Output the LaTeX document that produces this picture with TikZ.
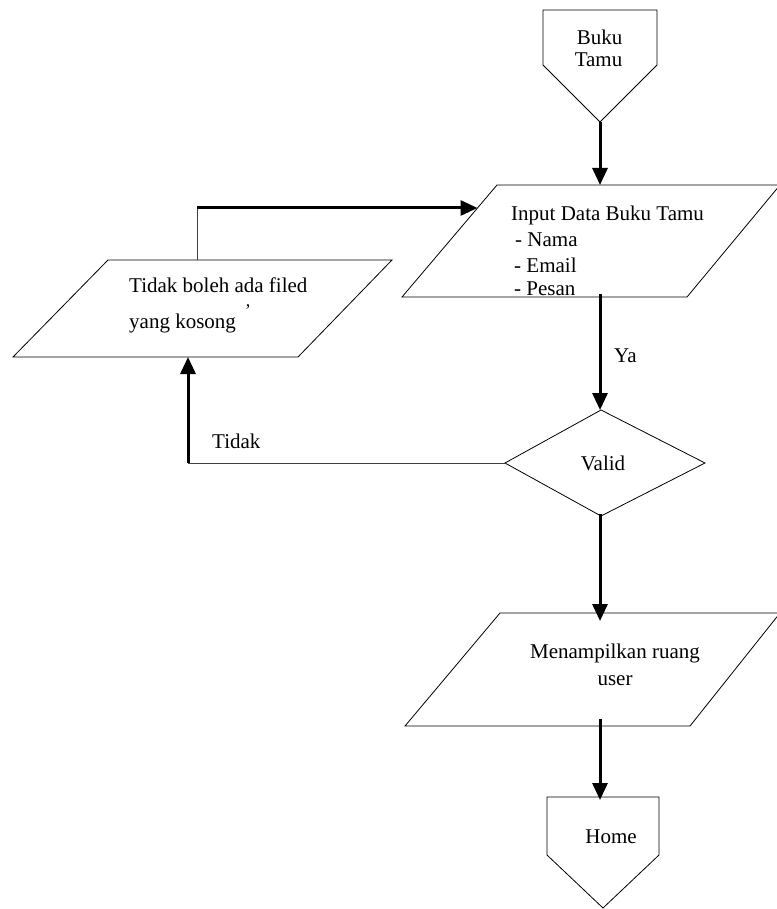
\documentclass[tikz,border=0pt]{standalone}
\usepackage{fontspec}
\setmainfont{Liberation Serif}
\usetikzlibrary{arrows.meta}
\begin{document}
\begin{tikzpicture}[x=1pt,y=-1pt,
  outline/.style={line width=0.8pt, draw=black},
  flow/.style={line width=3pt, -{Triangle[length=17pt,width=15pt]}},
  plain/.style={line width=1pt, draw=black!75},
  txt/.style={font=\fontsize{21}{25}\selectfont, inner sep=0pt, anchor=base},
  txtl/.style={txt, anchor=base west}]
\useasboundingbox (0,0) rectangle (776,909);

% start connector "Buku Tamu"
\draw[outline] (543,10) -- (657,10) -- (657,65) -- (600,122) -- (543,65) -- cycle;
\coordinate (bt-tip) at (600,122);
\node[txt] (buku) at (599.5,45) {Buku};
\node[txt] (tamu) at (598.5,67) {Tamu};

% input parallelogram
\draw[outline] (497,185) -- (780,185) -- (687,297) -- (402,297) -- cycle;
\coordinate (in-top) at (600,185);
\coordinate (in-bottom) at (600,297);
\coordinate (in-left) at (477.5,208);
\node[txtl] (input) at (511,221) {Input Data Buku Tamu};
\node[txtl] (nama) at (515,247) {- Nama};
\node[txtl] (email) at (514,272) {- Email};
\node[txtl] (pesan) at (514,295) {- Pesan};

% error message parallelogram
\draw[outline] (108,260) -- (392,260) -- (298,357) -- (13,357) -- cycle;
\coordinate (err-top) at (197,260);
\coordinate (err-bottom) at (188,357);
\coordinate (loop-corner) at (197,208);
\node[txtl] (errline1) at (129,292) {Tidak boleh ada filed};
\node[txtl] (errline2) at (129,328) {yang kosong};
\node[txt, font=\fontsize{18}{18}\selectfont] (errcomma) at (248,306) {,};

% decision
\draw[outline] (505,463) -- (601,410) -- (705,463) -- (601,516) -- cycle;
\coordinate (dec-top) at (600,410);
\coordinate (dec-left) at (505,463);
\coordinate (dec-bottom) at (600,516);
\coordinate (no-corner) at (188,463);
\node[txt] (valid) at (603,470) {Valid};

% output parallelogram
\draw[outline] (500,613) -- (780,613) -- (690,726) -- (405,726) -- cycle;
\coordinate (out-top) at (600,613);
\coordinate (out-bottom) at (600,726);
\node[txt] (outline1) at (615,658) {Menampilkan ruang};
\node[txt] (outline2) at (615,685) {user};

% end connector "Home"
\draw[outline] (547,797) -- (659,797) -- (659,855) -- (603,908) -- (547,855) -- cycle;
\coordinate (home-top) at (600,797);
\node[txt] (home) at (611,843) {Home};

% connectors
\draw[flow] (bt-tip) -- (in-top);
\draw[flow] ([yshift=3pt]in-bottom) -- (dec-top);
\node[txtl] (ya) at (614,362) {Ya};
\draw[plain] (dec-left) -- (no-corner);
\draw[flow] (no-corner) -- (err-bottom);
\node[txtl] (tidak) at (212,448) {Tidak};
\draw[plain] (err-top) -- (loop-corner);
\draw[flow] (loop-corner) -- (in-left);
\draw[flow] ([yshift=2pt]dec-bottom) -- ([yshift=-8pt]out-top);
\draw[flow] ([yshift=7pt]out-bottom) -- ([yshift=-3pt]home-top);
\end{tikzpicture}
\end{document}
